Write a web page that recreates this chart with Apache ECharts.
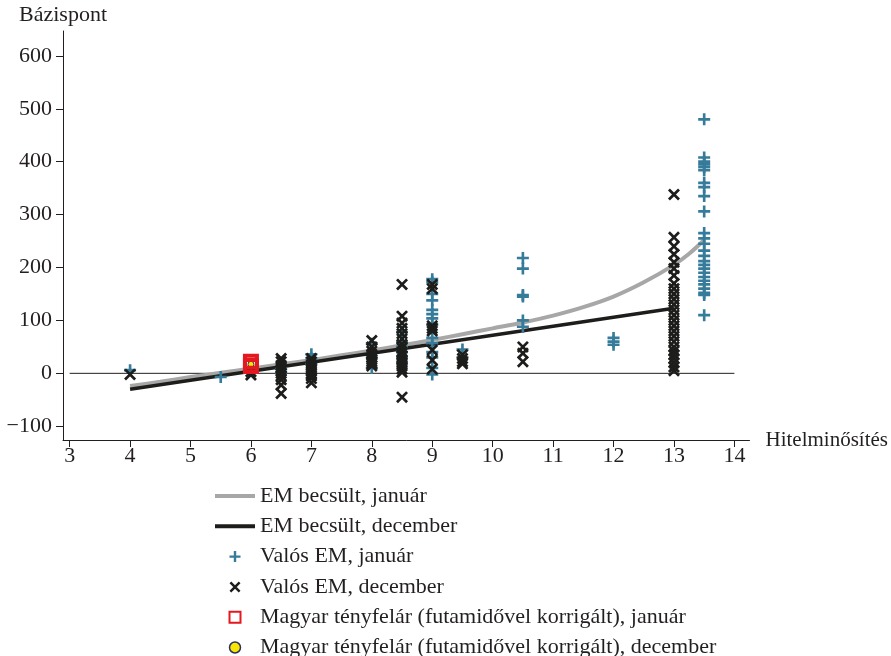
<!DOCTYPE html>
<html>
<head>
<meta charset="utf-8">
<script src="https://cdn.jsdelivr.net/npm/echarts@6/dist/echarts.min.js"></script>
<style>html,body{margin:0;padding:0;background:#fff}#c{width:891px;height:656px}</style>
</head>
<body>
<div id="c"></div>
<script>
// ---- data ----
const xTicks = [3,4,5,6,7,8,9,10,11,12,13,14];
const yTicks = [-100,0,100,200,300,400,500,600];
const zeroLine = [[3,0],[14,0]];
const estJan = [[4,-24],[4.5,-16],[5,-7],[5.5,1],[6,9],[6.5,17],[7,25],[7.5,34],[8,43],[8.5,53],[9,63],[9.5,74],[10,85],[10.5,96],[11,109],[11.5,125],[12,145],[12.5,172],[13,205],[13.25,226],[13.5,252]];
const estDec = [[4,-30],[13,123]];
const realJan = [
  [4,6],[5.5,-7],[6,12],
  [6.5,8],[6.5,2],
  [7,36],[7,28],[7,18],
  [8,56],[8,30],[8,10],
  [8.5,78],[8.5,60],[8.5,50],[8.5,40],[8.5,30],[8.5,20],
  [9,178],[9,172],[9,150],[9,138],[9,120],[9,112],[9,104],[9,92],[9,67],[9,57],[9,40],[9,30],[9,10],[9,-2],
  [9.5,45],[9.5,30],
  [10.5,218],[10.5,198],[10.5,148],[10.5,145],[10.5,100],[10.5,88],
  [12,67],[12,60],[12,54],
  [13.5,480],[13.5,408],[13.5,400],[13.5,395],[13.5,390],[13.5,384],[13.5,360],[13.5,352],[13.5,335],[13.5,306],
  [13.5,265],[13.5,255],[13.5,245],[13.5,232],[13.5,222],[13.5,212],[13.5,205],[13.5,198],[13.5,190],[13.5,182],
  [13.5,175],[13.5,168],[13.5,160],[13.5,152],[13.5,148],[13.5,110]
];
const realDec = [
  [4,-2],[6,-3],[6,3],
  [6.5,28],[6.5,22],[6.5,15],[6.5,10],[6.5,5],[6.5,0],[6.5,-5],[6.5,-12],[6.5,-22],[6.5,-38],
  [7,28],[7,22],[7,16],[7,12],[7,8],[7,4],[7,0],[7,-5],[7,-10],[7,-18],
  [8,62],[8,50],[8,42],[8,36],[8,30],[8,26],[8,22],[8,18],[8,14],
  [8.5,168],[8.5,108],[8.5,95],[8.5,85],[8.5,75],[8.5,65],[8.5,55],[8.5,48],[8.5,40],[8.5,33],[8.5,26],[8.5,20],[8.5,14],[8.5,8],[8.5,2],[8.5,-45],
  [9,168],[9,160],[9,90],[9,85],[9,80],[9,44],[9,25],[9,8],
  [9.5,35],[9.5,28],[9.5,22],[9.5,18],
  [10.5,50],[10.5,38],[10.5,22],
  [13,338],[13,257],[13,240],[13,225],[13,210],[13,198],[13,185],[13,170],[13,160],[13,150],[13,140],[13,130],
  [13,120],[13,110],[13,100],[13,90],[13,80],[13,70],[13,60],[13,50],[13,42],[13,35],[13,28],[13,20],[13,12],[13,5]
];
const huJan = [[6,22],[6,14]];
const huDec = [[6,17]];
const names = ['EM becsült, január','EM becsült, december','Valós EM, január','Valós EM, december',
  'Magyar tényfelár (futamidővel korrigált), január','Magyar tényfelár (futamidővel korrigált), december'];

// ---- chart ----
const PLUS = 'path://M3.9,0h2.2v10h-2.2zM0,3.9h10v2.2h-10z';
const CROSS = 'path://M0,1.6L1.6,0L10,8.4L8.4,10ZM8.4,0L10,1.6L1.6,10L0,8.4Z';
const BAR = 'path://M0,0h40v4h-40z';
const SQ = 'path://M0,0h10v10h-10z';
const FONT = 'Liberation Serif';
const TXT = '#231f20';
const chart = echarts.init(document.getElementById('c'), null, {renderer:'canvas'});
chart.setOption({
  animation:false,
  backgroundColor:'#fff',
  textStyle:{fontFamily:FONT},
  grid:{left:63,right:140,top:31,bottom:216},
  xAxis:{
    type:'value', min:2.89, max:14.25,
    name:'Hitelminősítés', nameLocation:'end', nameGap:16,
    nameTextStyle:{fontFamily:FONT,fontSize:21,color:TXT,verticalAlign:'middle'},
    axisLine:{onZero:false,lineStyle:{color:TXT,width:1}},
    axisTick:{show:true,length:7,customValues:xTicks,lineStyle:{color:TXT}},
    axisLabel:{customValues:xTicks,fontFamily:FONT,fontSize:22,color:TXT,margin:5},
    splitLine:{show:false}
  },
  yAxis:{
    type:'value', min:-126, max:647,
    name:'Bázispont', nameLocation:'end', nameGap:5,
    nameTextStyle:{fontFamily:FONT,fontSize:22,color:TXT},
    axisLine:{show:true,onZero:false,lineStyle:{color:TXT,width:1}},
    axisTick:{show:true,length:7,customValues:yTicks,lineStyle:{color:TXT}},
    axisLabel:{customValues:yTicks,fontFamily:FONT,fontSize:22,color:TXT,margin:11,
      formatter:v=>v<0?'\u2212'+Math.abs(v):String(v)},
    splitLine:{show:false}
  },
  legend:{
    orient:'vertical', left:210, top:480, height:200, itemWidth:40, itemHeight:11, itemGap:8.3,
    textStyle:{fontFamily:FONT,fontSize:22,color:TXT,lineHeight:22},
    data:[
      {name:names[0],icon:BAR,itemStyle:{color:'#a7a7a7'}},
      {name:names[1],icon:BAR,itemStyle:{color:'#1d1d1b'}},
      {name:names[2],icon:PLUS},
      {name:names[3],icon:CROSS},
      {name:names[4],icon:SQ,itemStyle:{color:'#fff',borderColor:'#e3191f',borderWidth:2}},
      {name:names[5],icon:'circle',itemStyle:{color:'#f7e700',borderColor:'#2b2f6b',borderWidth:1.5}}
    ]
  },
  series:[
    {type:'line',name:'zero',data:zeroLine,symbol:'none',silent:true,lineStyle:{color:TXT,width:1},z:1},
    {type:'line',name:names[0],data:estJan,symbol:'none',smooth:0.3,lineStyle:{color:'#a7a7a7',width:4},itemStyle:{color:'#a7a7a7'},z:2},
    {type:'line',name:names[1],data:estDec,symbol:'none',lineStyle:{color:'#1d1d1b',width:3.5},itemStyle:{color:'#1d1d1b'},z:3},
    {type:'scatter',name:names[2],data:realJan,symbol:PLUS,symbolSize:12,itemStyle:{color:'#367b99',opacity:1},z:4},
    {type:'scatter',name:names[3],data:realDec,symbol:CROSS,symbolSize:12,itemStyle:{color:'#1d1d1b',opacity:1},z:5},
    {type:'scatter',name:names[5],data:huDec,symbol:'circle',symbolSize:6,itemStyle:{color:'#f7e700',borderColor:'#2b2f6b',borderWidth:1,opacity:1},z:6},
    {type:'scatter',name:names[4],data:huJan,symbol:'rect',symbolSize:12,itemStyle:{color:'rgba(0,0,0,0)',borderColor:'#e3191f',borderWidth:4,opacity:1},z:7}
  ]
});
</script>
</body>
</html>
